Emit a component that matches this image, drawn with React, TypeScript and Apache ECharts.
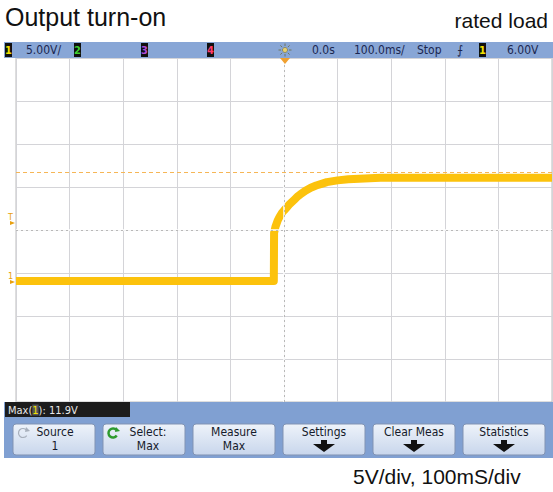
import React, { useEffect, useRef } from "react";
import * as echarts from "echarts";

// Time axis (ms), 100 ms/div, trigger at 0
const timeTicks = [-500, -400, -300, -200, -100, 0, 100, 200, 300, 400, 500];
// Trace: time (ms) and voltage (V)
const traceTime = [-500, -400, -300, -200, -100, -50, -19, -18.5, -16, -12, -8, -4, 0, 5, 10, 15, 20, 25, 30, 40, 50, 60, 70, 80, 100, 120, 150, 180, 220, 300, 400, 500];
const traceVolts = [0, 0, 0, 0, 0, 0, 0, 5.6, 6.3, 7.0, 7.5, 7.9, 8.2, 8.55, 8.9, 9.2, 9.5, 9.8, 10.05, 10.5, 10.85, 11.1, 11.3, 11.5, 11.7, 11.82, 11.93, 12.0, 12.0, 12.0, 12.0, 12.0];
const cursorVolts = 12.7;
const voltsMin = -14.07;
const voltsMax = 25.93;

const topBarItems = [
  { text: "5.00V/", x: 26 },
  { text: "0.0s", x: 312 },
  { text: "100.0ms/", x: 354 },
  { text: "Stop", x: 417 },
  { text: "6.00V", x: 507 },
];
const channelBoxes = [
  { label: "1", x: 5, color: "#f2e200" },
  { label: "2", x: 74, color: "#3fcf2f" },
  { label: "3", x: 141, color: "#b04ad8" },
  { label: "4", x: 207, color: "#ff3b6b" },
  { label: "1", x: 479, color: "#f2e200" },
];
const buttons = [
  { l1: "Source", l2: "1", arrow: false, icon: "gray" },
  { l1: "Select:", l2: "Max", arrow: false, icon: "green" },
  { l1: "Measure", l2: "Max", arrow: false, icon: "" },
  { l1: "Settings", l2: "", arrow: true, icon: "" },
  { l1: "Clear Meas", l2: "", arrow: true, icon: "" },
  { l1: "Statistics", l2: "", arrow: true, icon: "" },
];

const scopeFont = "'Liberation Sans Narrow', 'DejaVu Sans Condensed', 'Liberation Sans', sans-serif";
const docFont = "'Liberation Sans', Arial, sans-serif";

export default function App() {
  const ref = useRef<HTMLDivElement>(null);
  useEffect(() => {
    if (!ref.current) return;
    const chart = echarts.init(ref.current, undefined, { renderer: "svg" });
    const data = traceTime.map((t, i) => [t, traceVolts[i]]);

    const graphics: any[] = [];
    // Titles
    graphics.push({ type: "text", left: 5, top: 4, style: { text: "Output turn-on", font: `25px ${docFont}`, fill: "#111" } });
    graphics.push({ type: "text", right: 5, top: 10, style: { text: "rated load", font: `21px ${docFont}`, fill: "#111" } });
    graphics.push({ type: "text", left: 353, top: 466, style: { text: "5V/div, 100mS/div", font: `21px ${docFont}`, fill: "#111" } });
    // Top bar
    graphics.push({ type: "rect", shape: { x: 4, y: 42, width: 549, height: 16 }, style: { fill: "#88a6d6" }, z: 10 });
    channelBoxes.forEach((b) => {
      graphics.push({ type: "rect", shape: { x: b.x, y: 43, width: 7, height: 14 }, style: { fill: "#101010" }, z: 11 });
      graphics.push({ type: "text", x: b.x + 3.5, y: 50, style: { text: b.label, font: `bold 11px ${scopeFont}`, fill: b.color, align: "center", verticalAlign: "middle" }, z: 12 });
    });
    topBarItems.forEach((it) => {
      graphics.push({ type: "text", x: it.x, y: 50, style: { text: it.text, font: `12px ${scopeFont}`, fill: "#1b2750", verticalAlign: "middle" }, z: 12 });
    });
    graphics.push({ type: "text", x: 460, y: 50, style: { text: "⨍", font: `12px 'DejaVu Sans', sans-serif`, fill: "#1b2750", align: "center", verticalAlign: "middle" }, z: 12 });
    // sun icon
    graphics.push({ type: "circle", shape: { cx: 285, cy: 50, r: 2.5 }, style: { fill: "#e8d070", stroke: "#6a6a40", lineWidth: 0.6 }, z: 12 });
    for (let k = 0; k < 8; k++) {
      const a = (k * Math.PI) / 4;
      graphics.push({ type: "line", shape: { x1: 285 + Math.cos(a) * 4, y1: 50 + Math.sin(a) * 4, x2: 285 + Math.cos(a) * 6.5, y2: 50 + Math.sin(a) * 6.5 }, style: { stroke: "#6a6a40", lineWidth: 0.8 }, z: 12 });
    }
    // trigger position marker
    graphics.push({ type: "polygon", shape: { points: [[280, 58], [290, 58], [285, 64]] }, style: { fill: "#f0a030" }, z: 12 });
    // Left markers
    graphics.push({ type: "text", x: 8, y: 212, style: { text: "T", font: `9px ${scopeFont}`, fill: "#e8a010" }, z: 12 });
    graphics.push({ type: "polygon", shape: { points: [[10, 221], [15, 223], [10, 225]] }, style: { fill: "#e8a010" }, z: 12 });
    graphics.push({ type: "text", x: 8, y: 271, style: { text: "1", font: `9px ${scopeFont}`, fill: "#e8a010" }, z: 12 });
    graphics.push({ type: "polygon", shape: { points: [[10, 280], [15, 282], [10, 284]] }, style: { fill: "#e8a010" }, z: 12 });
    // Bottom panel
    graphics.push({ type: "rect", shape: { x: 4, y: 402, width: 549, height: 56 }, style: { fill: "#80a0d2" }, z: 10 });
    graphics.push({ type: "rect", shape: { x: 5, y: 402, width: 125, height: 15 }, style: { fill: "#1c1c1c" }, z: 11 });
    graphics.push({
      type: "text", x: 8, y: 410,
      style: {
        text: "{a|Max(}{b|1}{a|): 11.9V}", verticalAlign: "middle",
        rich: {
          a: { font: `11px ${scopeFont}`, fill: "#e8e8e8" },
          b: { font: `11px ${scopeFont}`, fill: "#f2e200", backgroundColor: "#555" },
        },
      }, z: 12,
    });
    buttons.forEach((b, i) => {
      const bx = 13 + i * 90;
      const bw = 82;
      graphics.push({
        type: "rect", shape: { x: bx, y: 424, width: bw, height: 31, r: 3 },
        style: {
          fill: new echarts.graphic.LinearGradient(0, 0, 0, 1, [
            { offset: 0, color: "#eef3fa" },
            { offset: 1, color: "#c8d6ec" },
          ]),
          stroke: "#8193b3", lineWidth: 1,
        }, z: 11,
      });
      let cx = bx + bw / 2;
      if (b.icon) {
        const ic = bx + 10;
        const col = b.icon === "green" ? "#2e9a2e" : "#a8b0bc";
        graphics.push({ type: "arc", shape: { cx: ic, cy: 433, r: 4.5, startAngle: 0.6, endAngle: 5.6 }, style: { stroke: col, lineWidth: b.icon === "green" ? 2.5 : 1.2, fill: "none" }, z: 12 });
        graphics.push({ type: "polygon", shape: { points: [[ic + 3, 427], [ic + 7, 431], [ic + 2, 432]] }, style: { fill: col }, z: 12 });
        cx = bx + (b.icon === "green" ? 45 : 42);
      }
      graphics.push({ type: "text", x: cx, y: 432, style: { text: b.l1, font: `12px ${scopeFont}`, fill: "#151a2a", align: "center", verticalAlign: "middle" }, z: 12 });
      if (b.l2) {
        graphics.push({ type: "text", x: cx, y: 446, style: { text: b.l2, font: `12px ${scopeFont}`, fill: "#151a2a", align: "center", verticalAlign: "middle" }, z: 12 });
      }
      if (b.arrow) {
        graphics.push({
          type: "polygon",
          shape: { points: [[cx - 3, 440], [cx + 3, 440], [cx + 3, 444], [cx + 11, 444], [cx, 452], [cx - 11, 444], [cx - 3, 444]] },
          style: { fill: "#111" }, z: 12,
        });
      }
    });

    chart.setOption({
      animation: false,
      backgroundColor: "#ffffff",
      grid: { left: 16, top: 58, width: 536, height: 344, show: true, borderColor: "#bcbcbc", borderWidth: 1, backgroundColor: "#ffffff" },
      xAxis: {
        type: "value", min: timeTicks[0], max: timeTicks[timeTicks.length - 1], interval: 100,
        axisLabel: { show: false }, axisTick: { show: false }, axisLine: { show: false },
        splitLine: { show: true, lineStyle: { color: "#d4d4d8", width: 1 } },
      },
      yAxis: [
        {
          type: "value", min: 0, max: 8, interval: 1,
          axisLabel: { show: false }, axisTick: { show: false }, axisLine: { show: false },
          splitLine: { show: true, lineStyle: { color: "#d4d4d8", width: 1 } },
        },
        { type: "value", min: voltsMin, max: voltsMax, show: false, splitLine: { show: false } },
      ],
      series: [
        {
          type: "line", yAxisIndex: 0, data: [], silent: true,
          markLine: {
            symbol: "none", label: { show: false }, silent: true, animation: false,
            lineStyle: { color: "#ffffff", type: "solid", width: 1.5 },
            data: [{ xAxis: 0 }, { yAxis: 4 }],
          },
        },
        {
          type: "line", yAxisIndex: 0, data: [], silent: true,
          markLine: {
            symbol: "none", label: { show: false }, silent: true, animation: false,
            lineStyle: { color: "#b8b8b8", type: [2, 3], width: 1 },
            data: [{ xAxis: 0 }, { yAxis: 4 }],
          },
        },
        {
          type: "line", yAxisIndex: 1, data, symbol: "none", silent: true,
          lineStyle: { color: "#fcc20c", width: 8, join: "round", cap: "butt" },
          markLine: {
            symbol: "none", label: { show: false }, silent: true, animation: false,
            lineStyle: { color: "#f6b656", type: [4, 3], width: 1 },
            data: [{ yAxis: cursorVolts }],
          },
          z: 3,
        },
      ],
      graphic: graphics,
    });
    return () => chart.dispose();
  }, []);
  return <div ref={ref} style={{ position: "absolute", left: 0, top: 0, width: 553, height: 492, background: "#fff" }} />;
}
